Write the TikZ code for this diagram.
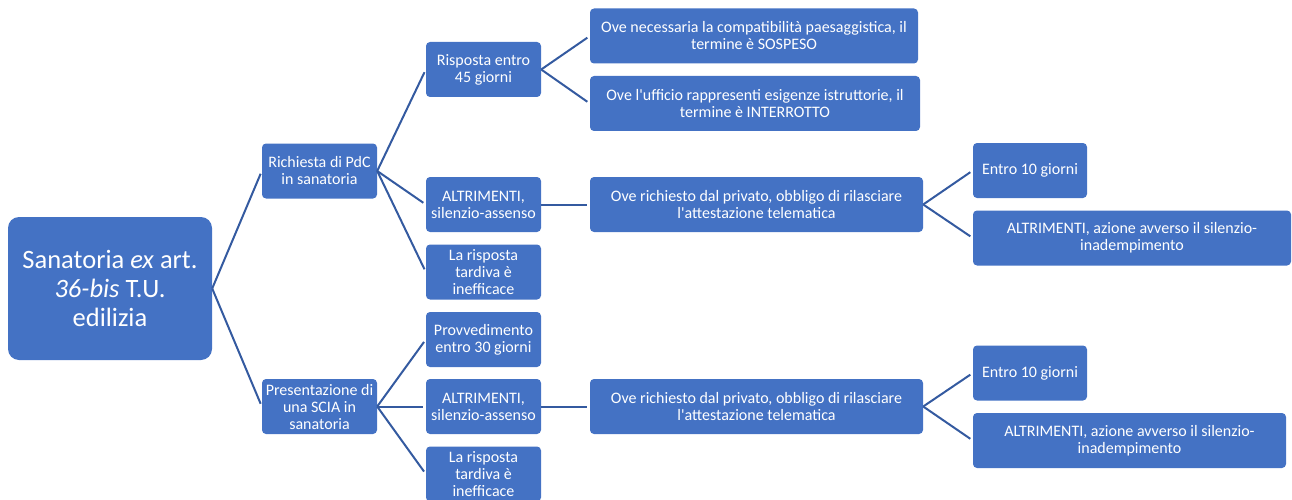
\documentclass[tikz,border=0pt]{standalone}
\usepackage{fontspec}
\setmainfont{Carlito}
\definecolor{BoxBlue}{RGB}{68, 114, 196}
\definecolor{LinkBlue}{RGB}{52, 90, 160}
\usepackage{tikz}
\usetikzlibrary{positioning}

\begin{document}
\begin{tikzpicture}[x=1pt, y=-1pt,
        box/.style={fill=BoxBlue, text=white, rounded corners=4pt, align=center,
            inner sep=0pt, minimum height=55pt, font=\fontsize{16}{17}\selectfont},
        link/.style={LinkBlue, line width=2pt, shorten >=3pt}]
        \useasboundingbox (0,0) rectangle (1292,500);

        % Root
        \node[box, rounded corners=11pt, minimum width=204pt, minimum height=143pt,
            font=\fontsize{26.5}{29}\selectfont] (root) at (110,288.5)
            {Sanatoria \emph{ex} art.\\\emph{36-bis} T.U.\\edilizia};

        % First level
        \node[box, minimum width=115pt] (pdc) at (319.5,171) {Richiesta di PdC\\in sanatoria};
        \node[box, minimum width=115pt] (scia) at (319.5,406.5) {Presentazione di\\una SCIA in\\sanatoria};

        % Second level, PdC
        \node[box, minimum width=115pt] (risp) at (483.5,69.5) {Risposta entro\\45 giorni};
        \node[box, minimum width=115pt] (altA) at (483.5,204.5) {ALTRIMENTI,\\silenzio-assenso};
        \node[box, minimum width=115pt] (tardA) at (483.5,272) {La risposta\\tardiva è\\inefficace};

        % Second level, SCIA
        \node[box, minimum width=115pt] (provv) at (483.5,339.5) {Provvedimento\\entro 30 giorni};
        \node[box, minimum width=115pt] (altB) at (483.5,406.5) {ALTRIMENTI,\\silenzio-assenso};
        \node[box, minimum width=115pt] (tardB) at (483.5,474) {La risposta\\tardiva è\\inefficace};

        % Third level
        \node[box, minimum width=328pt] (paes) at (754,36) {Ove necessaria la compatibilità paesaggistica, il\\termine è SOSPESO};
        \node[box, minimum width=330pt] (uff) at (755,103.5) {Ove l\textquotesingle ufficio rappresenti esigenze istruttorie, il\\termine è INTERROTTO};
        \node[box, minimum width=333pt] (attA) at (756.5,204.5) {Ove richiesto dal privato, obbligo di rilasciare\\l\textquotesingle attestazione telematica};
        \node[box, minimum width=333pt] (attB) at (756.5,406.5) {Ove richiesto dal privato, obbligo di rilasciare\\l\textquotesingle attestazione telematica};

        % Fourth level
        \node[box, minimum width=114pt] (entA) at (1030,170.5) {Entro 10 giorni};
        \node[box, minimum width=318pt] (avvA) at (1132,238) {ALTRIMENTI, azione avverso il silenzio-\\inadempimento};
        \node[box, minimum width=114pt] (entB) at (1030,373) {Entro 10 giorni};
        \node[box, minimum width=313pt] (avvB) at (1129.5,440.5) {ALTRIMENTI, azione avverso il silenzio-\\inadempimento};

        % Links
        \draw[link] (root.east) -- (pdc.west);
        \draw[link] (root.east) -- (scia.west);
        \draw[link] (pdc.east) -- (risp.west);
        \draw[link] (pdc.east) -- (altA.west);
        \draw[link] (pdc.east) -- (tardA.west);
        \draw[link] (scia.east) -- (provv.west);
        \draw[link] (scia.east) -- (altB.west);
        \draw[link] (scia.east) -- (tardB.west);
        \draw[link] (risp.east) -- (paes.west);
        \draw[link] (risp.east) -- (uff.west);
        \draw[link] (altA.east) -- (attA.west);
        \draw[link] (altB.east) -- (attB.west);
        \draw[link] (attA.east) -- (entA.west);
        \draw[link] (attA.east) -- (avvA.west);
        \draw[link] (attB.east) -- (entB.west);
        \draw[link] (attB.east) -- (avvB.west);
    \end{tikzpicture}
\end{document}
